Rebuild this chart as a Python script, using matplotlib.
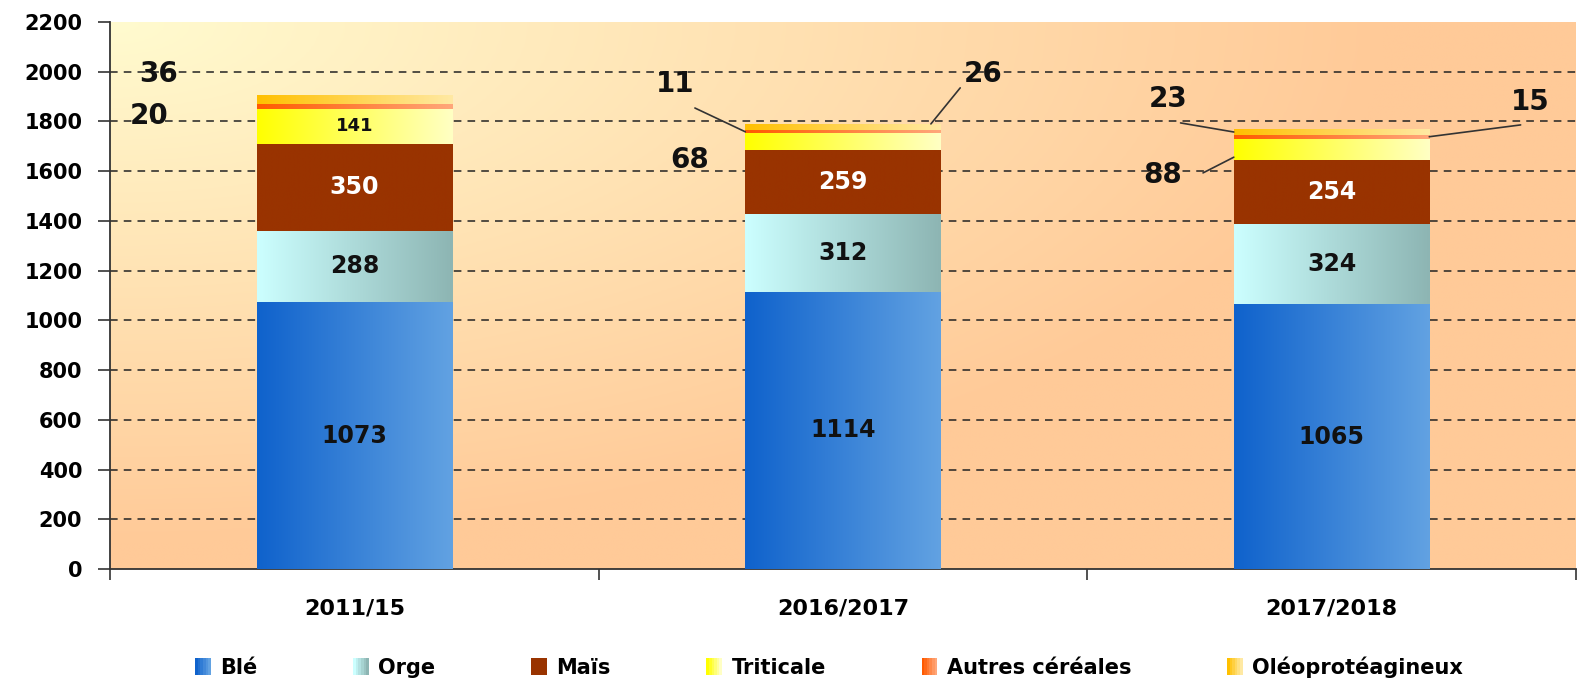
import numpy as np
import matplotlib.pyplot as plt
from matplotlib.colors import LinearSegmentedColormap, to_rgb
from matplotlib.patches import Patch
from matplotlib.legend_handler import HandlerTuple

plt.rcParams['font.family'] = ['DejaVu Sans']
plt.rcParams['font.weight'] = 'bold'

# Données
periodes = ['2011/15', '2016/2017', '2017/2018']
series = ['Blé', 'Orge', 'Maïs', 'Triticale', 'Autres céréales', 'Oléoprotéagineux']
ble = [1073, 1114, 1065]
orge = [288, 312, 324]
mais = [350, 259, 254]
triticale = [141, 68, 88]
autres = [20, 11, 15]
oleo = [36, 26, 23]
valeurs = [ble, orge, mais, triticale, autres, oleo]
yticks = list(range(0, 2201, 200))

# Dégradés (gauche -> droite) pour chaque série
degrades = {
    'Blé': ('#0F62CC', '#62A2E2'),
    'Orge': ('#CCFFFF', '#8DB5B3'),
    'Maïs': ('#993300', '#993300'),
    'Triticale': ('#FFFF00', '#FFFFC4'),
    'Autres céréales': ('#FF5A00', '#FFA77A'),
    'Oléoprotéagineux': ('#FFC000', '#FFE9A3'),
}
couleur_texte = {'Blé': '#111111', 'Orge': '#111111', 'Maïs': 'white', 'Triticale': '#111111'}

fig = plt.figure(figsize=(15.79, 6.87), dpi=100)
ax = fig.add_axes([0.0697, 0.1718, 0.9283, 0.7962])

x = np.arange(len(periodes))
largeur = 0.4

# Fond en dégradé
u = np.linspace(0, 1, 300)
v = np.linspace(0, 1, 200)
U, V = np.meshgrid(u, v)
t = np.clip(np.hypot(U * 1.15, V * 1.05), 0, 1)
haut = np.array(to_rgb('#FFFBCF'))
bas = np.array(to_rgb('#FFCA98'))
fond = haut[None, None, :] * (1 - t[..., None]) + bas[None, None, :] * t[..., None]
ax.imshow(fond, extent=[0, 1, 0, 1], transform=ax.transAxes, aspect='auto',
          origin='upper', zorder=0)

# Barres empilées avec dégradé horizontal
grad = np.linspace(0, 1, 256).reshape(1, -1)
bottoms = np.zeros(len(periodes))
barres = {}
for nom, vals in zip(series, valeurs):
    c0, c1 = degrades[nom]
    cmap = LinearSegmentedColormap.from_list(nom, [c0, c1])
    bars = ax.bar(x, vals, largeur, bottom=bottoms, color=c0, edgecolor='none', zorder=2)
    for b in bars:
        xb, yb, wb, hb = b.get_x(), b.get_y(), b.get_width(), b.get_height()
        im = ax.imshow(grad, cmap=cmap, extent=[xb, xb + wb, yb, yb + hb],
                       aspect='auto', zorder=3)
        im.set_clip_path(b)
    barres[nom] = (bottoms.copy(), np.array(vals))
    bottoms = bottoms + np.array(vals)

ax.set_xlim(-0.5, 2.48)
ax.set_ylim(0, 2200)

# Valeurs dans les segments
for nom in ['Blé', 'Orge', 'Maïs']:
    bas_, vals = barres[nom]
    for i in range(len(periodes)):
        ax.text(x[i], bas_[i] + vals[i] / 2, str(vals[i]), ha='center', va='center',
                fontsize=17, fontweight='bold', color=couleur_texte[nom], zorder=5)
bas_, vals = barres['Triticale']
ax.text(x[0], bas_[0] + vals[0] / 2, str(vals[0]), ha='center', va='center',
        fontsize=13, fontweight='bold', color='#111111', zorder=5)

# Petites valeurs à l'extérieur (position du texte, départ du trait)
etiquettes = [
    (0, 'Oléoprotéagineux', -0.40, 1990, None, None),
    (0, 'Autres céréales', -0.42, 1820, None, None),
    (1, 'Autres céréales', -0.343, 1950, (-0.303, 1854), 'left'),
    (1, 'Oléoprotéagineux', 0.286, 1990, (0.24, 1935), 'top'),
    (1, 'Triticale', -0.313, 1645, None, None),
    (2, 'Oléoprotéagineux', -0.335, 1890, (-0.309, 1794), 'left'),
    (2, 'Autres céréales', 0.406, 1878, (0.387, 1786), 'right'),
    (2, 'Triticale', -0.345, 1585, (-0.263, 1593), 'left'),
]
for i, nom, dx, ty, depart, cote in etiquettes:
    bas_, vals = barres[nom]
    ax.text(x[i] + dx, ty, str(vals[i]), ha='center', va='center', fontsize=20,
            fontweight='bold', color='#111111', zorder=5)
    if depart is not None:
        if cote == 'left':
            fin = (x[i] - largeur / 2, bas_[i] + vals[i] * 0.5)
        elif cote == 'right':
            fin = (x[i] + largeur / 2, bas_[i] + vals[i] * 0.5)
        else:
            fin = (x[i] + 0.18, bas_[i] + vals[i])
        if nom == 'Triticale':
            fin = (x[i] - largeur / 2, bas_[i] + vals[i] * 0.15)
        ax.annotate('', xy=fin, xytext=(x[i] + depart[0], depart[1]),
                    arrowprops=dict(arrowstyle='-', color='#333333', lw=1.2,
                                    shrinkA=0, shrinkB=0), zorder=5)

# Axes et grille
ax.set_yticks(yticks)
ax.set_yticklabels([str(v) for v in yticks], fontsize=15, fontweight='bold')
ax.set_xticks(x)
ax.set_xticklabels(periodes, fontsize=16, fontweight='bold')
ax.tick_params(axis='x', which='major', length=0, pad=21)
ax.set_xticks([-0.5, 0.5, 1.5, 2.5], minor=True)
ax.tick_params(axis='x', which='minor', length=8, width=1.2, color='#333333')
ax.tick_params(axis='y', length=9, width=1.2, color='#333333', pad=11)
for gy in yticks[1:-1]:
    ax.axhline(gy, color='#222222', lw=1.1, ls=(0, (5, 4)), zorder=1)
for s in ['top', 'right']:
    ax.spines[s].set_visible(False)
ax.spines['left'].set_color('#333333')
ax.spines['bottom'].set_color('#333333')
ax.spines['left'].set_linewidth(1.3)
ax.spines['bottom'].set_linewidth(1.3)

# Légende avec petits carrés en dégradé
handles = []
for n in series:
    c0, c1 = np.array(to_rgb(degrades[n][0])), np.array(to_rgb(degrades[n][1]))
    handles.append(tuple(Patch(facecolor=c0 + (c1 - c0) * k / 5, edgecolor='none')
                         for k in range(6)))
fig.legend(handles, series, loc='center', bbox_to_anchor=(0.525, 0.029), ncol=6,
           frameon=False, handlelength=0.75, handleheight=0.9,
           handletextpad=0.45, columnspacing=4.6,
           handler_map={tuple: HandlerTuple(ndivide=None, pad=0)},
           prop={'weight': 'bold', 'size': 15})

fig.savefig('out.png', dpi=100)
